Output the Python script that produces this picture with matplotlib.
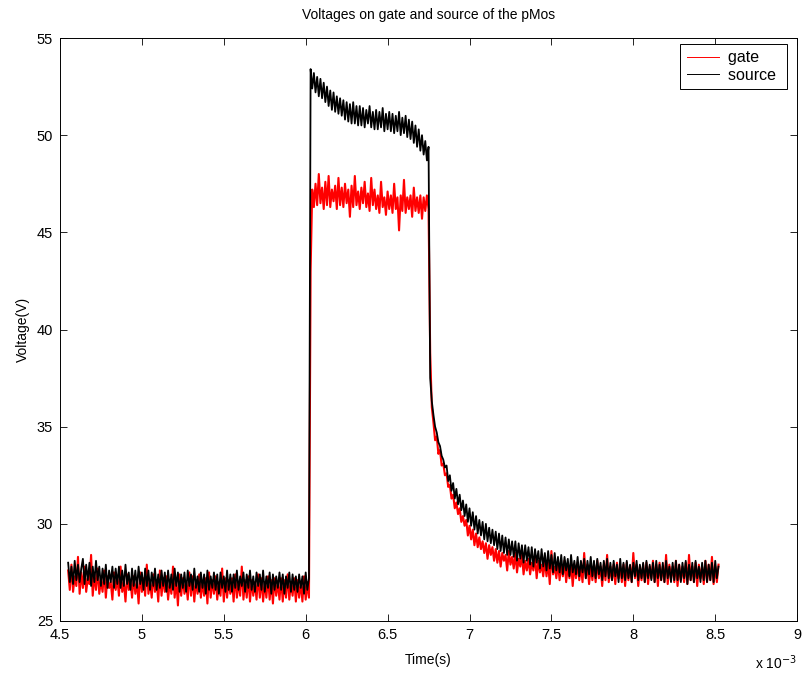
import numpy as np
import matplotlib
matplotlib.use("Agg")
import matplotlib.pyplot as plt

plt.rcParams['font.family'] = ['Liberation Sans', 'DejaVu Sans']

# sampling (ms)
t_start = 4.55
t_step = 0.01

# ---- source (black) ----
src_pre = [
    28.0, 27.0, 27.8, 26.9, 28.1, 27.1, 27.9, 27.0, 27.7, 28.2,
    26.9, 27.9, 27.1, 28.0, 26.8, 27.8, 27.0, 28.1, 27.1, 27.8,
    26.8, 27.7, 26.9, 27.9, 26.7, 27.6, 27.0, 27.8, 26.7, 27.7,
    26.9, 27.8, 26.7, 27.6, 26.8, 27.9, 26.9, 27.5, 26.6, 27.7,
    26.8, 27.6, 26.7, 27.8, 26.9, 27.5, 26.6, 27.7, 26.8, 27.6,
    26.6, 27.5, 26.8, 27.7, 26.6, 27.4, 26.7, 27.6, 26.8, 27.5,
    26.5, 27.6, 26.7, 27.4, 26.6, 27.7, 26.8, 27.5, 26.5, 27.4,
    26.7, 27.5, 26.5, 27.6, 26.8, 27.4, 26.6, 27.7, 26.7, 27.3,
    26.5, 27.5, 26.7, 27.4, 26.4, 27.6, 26.6, 27.3, 26.7, 27.5,
    26.6, 27.4, 26.4, 27.5, 26.7, 27.3, 26.5, 27.6, 26.6, 27.4,
    26.5, 27.4, 26.7, 27.6, 26.6, 27.3, 26.8, 27.5, 26.5, 27.4,
    26.7, 27.6, 26.6, 27.3, 26.5, 27.5, 26.8, 27.4, 26.6, 27.6,
    26.5, 27.3, 26.7, 27.5, 26.4, 27.4, 26.6, 27.3, 26.7, 27.5,
    26.6, 27.4, 26.4, 27.3, 26.7, 27.5, 26.5, 27.4, 26.6, 27.3,
    26.5, 27.4, 26.7, 27.3, 26.4, 27.5, 26.6, 27.2,
]
src_high = [
    53.4, 52.4, 53.2, 52.2, 53.0, 52.0, 52.9, 51.9, 52.7, 51.7,
    52.5, 51.5, 52.3, 51.3, 52.2, 51.2, 52.0, 51.1, 51.9, 51.0,
    51.8, 50.8, 51.7, 50.7, 51.6, 50.6, 51.7, 50.6, 51.5, 50.5,
    51.5, 50.5, 51.4, 50.4, 51.3, 50.6, 51.5, 50.4, 51.2, 50.3,
    51.3, 50.3, 51.2, 50.4, 51.4, 50.2, 51.1, 50.3, 51.2, 50.2,
    51.1, 50.1, 51.0, 50.2, 51.2, 50.0, 50.9, 50.1, 51.0, 49.9,
    50.8, 49.8, 50.7, 49.6, 50.5, 49.4, 50.3, 49.2, 50.0, 49.0,
    49.7, 48.7, 49.4,
]
src_decay = [
    37.5, 36.3, 35.6, 35.0, 34.7, 34.2, 34.0, 33.5, 33.3, 32.9,
    33.0, 32.2, 32.5, 31.7, 32.1, 31.3, 31.8, 31.0, 31.5, 30.7,
    31.2, 30.4, 31.0, 30.1, 30.8, 29.9, 30.6, 29.7, 30.4, 29.5,
    30.2, 29.4, 30.1, 29.2, 30.0, 29.1, 29.8, 29.0, 29.7, 28.9,
    29.6, 28.7, 29.5, 28.6, 29.4, 28.5, 29.3, 28.4, 29.2, 28.4,
    29.1, 28.3, 29.1, 28.1, 29.0, 28.2, 28.9, 28.0, 28.9, 28.1,
    28.8, 27.9, 28.8, 27.8, 28.7, 28.0, 28.6, 27.7, 28.7, 27.8,
    28.5, 27.6, 28.6, 27.7, 28.4, 27.5, 28.5, 27.6, 28.3, 27.5,
    28.4, 27.4, 28.3, 27.6, 28.2, 27.3, 28.4, 27.5, 28.1, 27.4,
    28.3, 27.3, 28.1, 27.5, 28.2, 27.2, 28.1, 27.4, 28.3, 27.3,
    28.1, 27.2, 28.2, 27.4, 28.0, 27.1, 28.1, 27.3, 28.2, 27.2,
    28.0, 27.1, 28.1, 27.3, 27.9, 27.0, 28.2, 27.2, 28.0, 27.1,
    28.1, 27.2, 27.9, 27.0, 28.0, 27.3, 28.1, 27.1, 27.9, 27.2,
    28.0, 27.0, 28.1, 27.2, 27.9, 27.1, 28.0, 27.0, 28.1, 27.2,
    27.9, 27.1, 28.0, 27.0, 28.1, 27.2, 27.8, 27.0, 28.0, 27.1,
    28.1, 27.1, 27.9, 27.0, 28.0, 27.2, 28.1, 26.9, 27.9, 27.1,
    28.0, 27.0, 28.1, 27.2, 27.8, 27.0, 28.0, 27.1, 28.1, 27.0,
    27.9, 27.1, 28.0, 27.0, 28.1, 27.2, 27.8,
]

# ---- gate (red) ----
gate_pre = [
    27.6, 26.6, 27.9, 26.5, 27.3, 26.8, 28.3, 26.4, 27.5, 26.7,
    27.8, 26.5, 27.2, 26.9, 28.4, 26.3, 27.4, 26.6, 27.7, 26.4,
    27.1, 26.5, 27.6, 26.2, 27.3, 26.7, 27.0, 26.1, 27.5, 26.6,
    27.2, 26.3, 27.8, 26.5, 27.0, 26.0, 27.4, 26.6, 27.1, 26.2,
    27.3, 26.4, 27.0, 25.9, 27.5, 26.5, 27.2, 26.3, 27.9, 26.4,
    27.0, 26.2, 27.4, 26.5, 27.1, 26.0, 27.6, 26.3, 27.2, 26.5,
    27.3, 26.1, 27.0, 26.4, 27.8, 26.2, 27.1, 25.8, 27.4, 26.3,
    27.2, 26.4, 27.0, 26.1, 27.5, 26.3, 27.3, 26.0, 27.1, 26.4,
    27.4, 26.2, 27.0, 26.3, 27.2, 25.9, 27.5, 26.2, 27.1, 26.4,
    27.3, 26.1, 27.0, 26.3, 27.7, 26.0, 27.2, 26.2, 27.1, 26.4,
    27.2, 26.0, 27.4, 26.2, 27.0, 26.3, 27.8, 26.1, 27.1, 26.2,
    27.3, 26.0, 27.1, 26.3, 27.0, 26.1, 27.4, 26.2, 27.2, 26.0,
    27.0, 26.2, 27.3, 26.1, 27.1, 25.9, 27.2, 26.3, 27.0, 26.1,
    27.2, 26.0, 27.1, 26.2, 27.4, 26.1, 27.0, 26.3, 27.2, 26.0,
    27.1, 26.2, 27.0, 26.0, 27.3, 26.1, 27.0, 26.2,
]
gate_high = [
    43.0, 47.2, 46.3, 47.5, 46.4, 48.0, 46.5, 47.3, 46.2, 47.6,
    46.4, 47.9, 46.3, 47.2, 46.6, 47.4, 46.2, 47.8, 46.4, 47.3,
    46.3, 47.5, 46.5, 47.2, 45.8, 47.4, 46.3, 47.9, 46.4, 47.1,
    46.2, 47.3, 46.5, 47.6, 46.3, 47.0, 46.1, 47.8, 46.4, 47.2,
    46.2, 46.9, 46.0, 47.6, 46.3, 46.8, 45.9, 47.1, 46.2, 46.9,
    46.0, 47.5, 46.2, 46.8, 45.1, 46.9, 46.1, 47.7, 46.0, 46.8,
    46.2, 46.9, 45.8, 47.3, 46.1, 46.8, 46.0, 46.9, 45.7, 46.8,
    46.1, 46.9, 46.2,
]
gate_decay = [
    38.8, 36.0, 35.2, 34.3, 34.5, 33.6, 33.8, 33.0, 33.1, 32.5,
    32.6, 31.9, 32.0, 31.3, 31.5, 30.8, 31.1, 30.5, 30.8, 30.1,
    30.4, 29.9, 30.2, 29.4, 29.9, 29.2, 29.7, 28.9, 29.5, 28.8,
    29.3, 28.7, 29.1, 28.5, 29.0, 28.2, 28.9, 28.4, 28.8, 28.1,
    28.7, 28.0, 28.6, 27.8, 28.5, 28.1, 28.4, 27.6, 28.6, 27.9,
    28.3, 27.7, 28.5, 27.5, 28.2, 27.8, 28.4, 27.4, 28.1, 27.6,
    28.2, 27.4, 28.0, 27.6, 28.3, 27.2, 28.1, 27.5, 27.9, 27.3,
    28.1, 27.3, 28.0, 26.9, 28.6, 27.4, 27.8, 27.2, 28.0, 27.1,
    27.9, 27.3, 28.1, 27.0, 27.8, 27.2, 28.0, 26.8, 27.9, 27.2,
    28.0, 27.1, 27.8, 27.0, 28.5, 27.2, 27.9, 26.9, 27.8, 27.1,
    27.9, 27.0, 28.1, 27.2, 27.8, 26.8, 27.9, 27.1, 28.4, 27.0,
    27.8, 27.1, 27.9, 26.9, 28.0, 27.2, 27.8, 27.0, 27.9, 26.8,
    28.0, 27.1, 27.8, 27.0, 28.5, 27.2, 27.9, 26.8, 27.8, 27.1,
    27.9, 27.0, 28.0, 26.9, 27.8, 27.2, 28.1, 27.0, 27.9, 26.8,
    28.0, 27.1, 27.8, 27.0, 28.4, 26.9, 27.9, 27.2, 27.8, 27.0,
    28.1, 26.8, 27.9, 27.1, 27.8, 27.0, 28.0, 26.9, 28.4, 27.1,
    27.8, 27.0, 28.0, 26.8, 27.9, 27.2, 27.8, 26.9, 28.1, 27.0,
    27.9, 27.1, 28.3, 26.9, 27.8, 27.0, 27.9,
]

x_ticks = [4.5, 5, 5.5, 6, 6.5, 7, 7.5, 8, 8.5, 9]
x_ticklabels = ['4.5', '5', '5.5', '6', '6.5', '7', '7.5', '8', '8.5', '9']
y_ticks = [25, 30, 35, 40, 45, 50, 55]

source = np.array(src_pre + src_high + src_decay)
gate = np.array(gate_pre + gate_high + gate_decay)
t = t_start + t_step * np.arange(len(source))

fig = plt.figure(figsize=(8.06, 6.75), dpi=100)
ax = fig.add_axes([0.0744, 0.08, 0.9146, 0.8637])

ax.plot(t, gate, color='#ff0000', lw=1.5, label='gate')
ax.plot(t, source, color='black', lw=1.3, label='source')

ax.set_xlim(4.5, 9)
ax.set_ylim(25, 55)
ax.set_xticks(x_ticks)
ax.set_xticklabels(x_ticklabels)
ax.set_yticks(y_ticks)
ax.tick_params(direction='in', top=True, right=True, length=5, width=0.6,
               labelsize=10.5, pad=5)
for s in ax.spines.values():
    s.set_linewidth(0.7)

ax.set_title('Voltages on gate and source of the pMos', fontsize=10, pad=14)
ax.set_xlabel('Time(s)', fontsize=10, labelpad=8)
ax.set_ylabel('Voltage(V)', fontsize=10, labelpad=5)
ax.text(1.0, -0.072, r'x 10$^{-3}$', transform=ax.transAxes,
        ha='right', va='center', fontsize=10)

leg = ax.legend(loc='upper right', bbox_to_anchor=(0.9864, 0.9897),
                fontsize=11.5, fancybox=False, edgecolor='black',
                framealpha=1, borderaxespad=0.0, handlelength=2.0,
                borderpad=0.4, labelspacing=0.15, handletextpad=0.6)
leg.get_frame().set_linewidth(0.7)
leg.get_texts()[0].set_text('gate ')
leg.get_texts()[1].set_text('source ')
for h in leg.get_lines():
    h.set_linewidth(0.7)

fig.savefig('out.png', dpi=100)
